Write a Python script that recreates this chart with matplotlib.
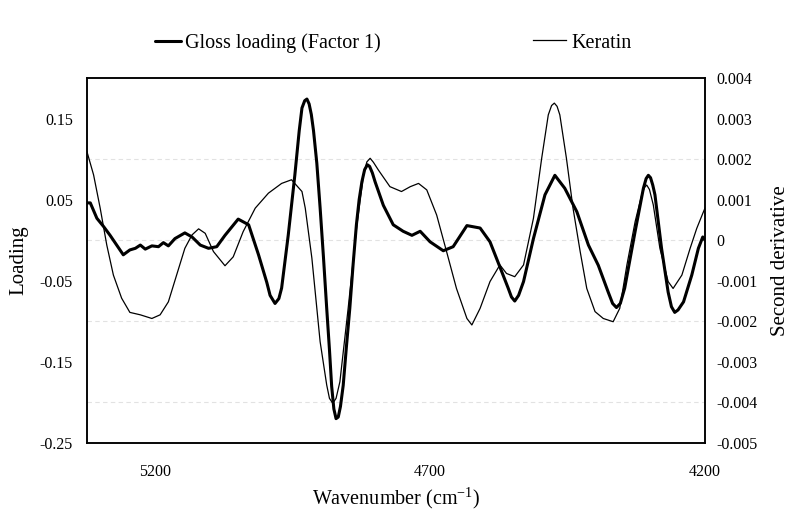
import numpy as np
import matplotlib
matplotlib.use("Agg")
import matplotlib.pyplot as plt

plt.rcParams['font.family'] = ['Liberation Serif', 'DejaVu Serif']
plt.rcParams['mathtext.fontset'] = 'custom'
plt.rcParams['mathtext.rm'] = 'Liberation Serif'

# Gloss loading (Factor 1), left axis
gloss_wn = [5324, 5318, 5306, 5294, 5282, 5270, 5258, 5246, 5236, 5227, 5218, 5206,
            5194, 5185, 5176, 5164, 5146, 5133, 5118, 5103, 5088, 5073, 5049, 5030,
            5012, 4997, 4991, 4982, 4975, 4970, 4958, 4946, 4938, 4933, 4928, 4924,
            4920, 4916, 4912, 4906, 4900, 4894, 4888, 4883, 4879, 4875, 4871, 4867,
            4863, 4858, 4852, 4846, 4840, 4834, 4829, 4824, 4819, 4814, 4810, 4805,
            4800, 4785, 4767, 4749, 4733, 4718, 4700, 4676, 4658, 4633, 4609, 4591,
            4573, 4558, 4552, 4546, 4539, 4530, 4512, 4491, 4473, 4455, 4433, 4412,
            4394, 4376, 4368, 4361, 4354, 4346, 4327, 4312, 4307, 4303, 4299, 4295,
            4291, 4279, 4267, 4261, 4255, 4249, 4239, 4224, 4212, 4204, 4200]
gloss = [0.046, 0.046, 0.027, 0.017, 0.006, -0.006, -0.018, -0.012, -0.010, -0.006,
         -0.011, -0.007, -0.008, -0.003, -0.007, 0.002, 0.009, 0.004, -0.006, -0.010,
         -0.008, 0.006, 0.026, 0.019, -0.018, -0.052, -0.068, -0.078, -0.072, -0.059,
         0.006, 0.080, 0.135, 0.163, 0.172, 0.174, 0.168, 0.155, 0.135, 0.095,
         0.040, -0.020, -0.084, -0.135, -0.180, -0.208, -0.220, -0.218, -0.205, -0.179,
         -0.130, -0.084, -0.030, 0.019, 0.050, 0.072, 0.087, 0.093, 0.091, 0.083,
         0.072, 0.043, 0.019, 0.011, 0.006, 0.011, -0.002, -0.013, -0.008, 0.018,
         0.015, -0.002, -0.033, -0.059, -0.070, -0.075, -0.068, -0.051, 0.002, 0.056,
         0.080, 0.064, 0.035, -0.006, -0.031, -0.064, -0.078, -0.083, -0.078, -0.059,
         0.011, 0.064, 0.076, 0.080, 0.077, 0.068, 0.056, -0.010, -0.064, -0.082,
         -0.089, -0.086, -0.076, -0.043, -0.010, 0.004, 0.000]

# Keratin second derivative, right axis
ker_wn = [5324, 5312, 5300, 5288, 5276, 5261, 5246, 5227, 5206, 5191, 5176, 5161,
          5146, 5133, 5121, 5109, 5094, 5073, 5058, 5040, 5018, 4994, 4970, 4952,
          4933, 4927, 4915, 4900, 4888, 4883, 4877, 4871, 4864, 4849, 4833, 4821,
          4815, 4809, 4803, 4794, 4773, 4752, 4736, 4721, 4706, 4688, 4670, 4652,
          4633, 4624, 4609, 4591, 4573, 4561, 4546, 4530, 4512, 4497, 4485, 4479,
          4474, 4469, 4464, 4452, 4440, 4427, 4415, 4400, 4385, 4367, 4355, 4342,
          4327, 4315, 4310, 4306, 4301, 4294, 4282, 4267, 4258, 4242, 4227, 4215,
          4204, 4200]
keratin = [0.00218, 0.00161, 0.00079, -0.00012, -0.00086, -0.00143, -0.00178, -0.00184,
           -0.00193, -0.00184, -0.00152, -0.00086, -0.00020, 0.00013, 0.00028, 0.00017,
           -0.00028, -0.00063, -0.00041, 0.00021, 0.00079, 0.00116, 0.00140, 0.00149,
           0.00120, 0.00079, -0.00044, -0.00250, -0.00357, -0.00390, -0.00402, -0.00390,
           -0.00349, -0.00168, 0.00038, 0.00161, 0.00193, 0.00202, 0.00192, 0.00173,
           0.00132, 0.00120, 0.00132, 0.00140, 0.00124, 0.00062, -0.00028, -0.00119,
           -0.00193, -0.00209, -0.00168, -0.00102, -0.00061, -0.00082, -0.00090, -0.00061,
           0.00054, 0.00202, 0.00309, 0.00332, 0.00338, 0.00330, 0.00309, 0.00202,
           0.00079, -0.00028, -0.00119, -0.00176, -0.00193, -0.00201, -0.00168, -0.00061,
           0.00046, 0.00112, 0.00130, 0.00136, 0.00125, 0.00087, -0.00020, -0.00102,
           -0.00119, -0.00086, -0.00020, 0.00029, 0.00066, 0.00079]

left_ticks = [-0.25, -0.15, -0.05, 0.05, 0.15]
left_labels = ['-0.25', '-0.15', '-0.05', '0.05', '0.15']
right_ticks = [-0.005, -0.004, -0.003, -0.002, -0.001, 0, 0.001, 0.002, 0.003, 0.004]
right_labels = ['-0.005', '-0.004', '-0.003', '-0.002', '-0.001', '0',
                '0.001', '0.002', '0.003', '0.004']
x_ticks = [5200, 4700, 4200]

fig = plt.figure(figsize=(7.93, 5.16), dpi=100)
ax = fig.add_axes([0.1097, 0.1415, 0.7793, 0.7074])
ax2 = ax.twinx()

ax.set_xlim(5324, 4200)
ax.set_ylim(-0.25, 0.2)
ax2.set_ylim(-0.005, 0.004)

# faint dashed grid at every right-axis tick
ax.set_yticks(np.arange(-0.2, 0.2, 0.05), minor=True)
ax.yaxis.grid(True, which='minor', ls=(0, (4, 3)), color='#e2e2e2', lw=0.8)
ax.set_axisbelow(True)

ax.plot(gloss_wn, gloss, color='black', lw=2.2, label='Gloss loading (Factor 1)',
        solid_joinstyle='round', solid_capstyle='round', zorder=3)
ax2.plot(ker_wn, keratin, color='black', lw=0.9, label='Keratin',
         solid_joinstyle='round')

ax.set_yticks(left_ticks)
ax.set_yticklabels(left_labels)
ax2.set_yticks(right_ticks)
ax2.set_yticklabels(right_labels)
ax.set_xticks(x_ticks)

ax.tick_params(axis='y', which='both', length=0, labelsize=11.5, pad=10)
ax.tick_params(axis='x', length=0, labelsize=11.5, pad=15)
ax2.tick_params(axis='y', length=0, labelsize=11.5, pad=8)

for a in (ax, ax2):
    for s in a.spines.values():
        s.set_linewidth(1.1)
        s.set_color('black')

ax.set_ylabel('Loading', fontsize=15, labelpad=8)
ax2.set_ylabel('Second derivative', fontsize=15, labelpad=10)
ax.set_xlabel('Wavenumber (cm$^{-1}$)', fontsize=14.5, labelpad=4)

h1, l1 = ax.get_legend_handles_labels()
h2, l2 = ax2.get_legend_handles_labels()
fig.legend(h1, l1, loc='center left', bbox_to_anchor=(155 / 793, 1 - 43 / 516),
           frameon=False, fontsize=14.5, handlelength=1.3, handletextpad=0.2,
           borderpad=0, borderaxespad=0)
fig.legend(h2, l2, loc='center left', bbox_to_anchor=(533 / 793, 1 - 43 / 516),
           frameon=False, fontsize=14.5, handlelength=1.65, handletextpad=0.25,
           borderpad=0, borderaxespad=0)

fig.savefig('out.png', dpi=100)
